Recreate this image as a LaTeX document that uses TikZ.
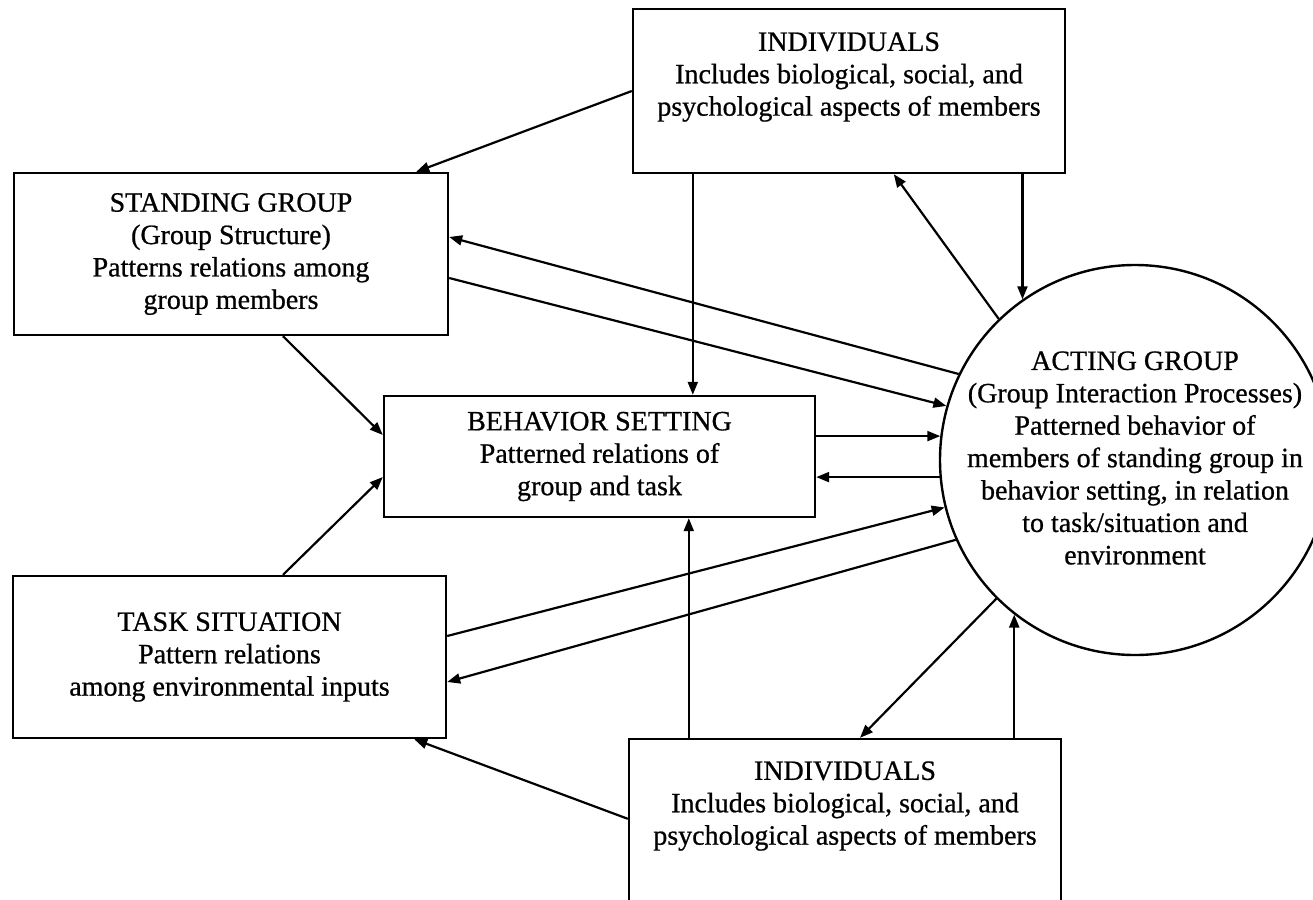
\documentclass[tikz,border=0pt]{standalone}
\usepackage{fontspec}
\setmainfont{Liberation Serif}[FakeBold=0.7]
\usetikzlibrary{arrows.meta,calc}
\begin{document}
\begin{tikzpicture}[x=0.5pt,y=-0.5pt,
  box/.style={draw, line width=1.2pt, rectangle, inner sep=0pt},
  lbl/.style={align=center, font=\fontsize{14}{16.2}\selectfont, inner sep=0pt},
  link/.style={line width=1.1pt, -{Triangle[length=6.5pt,width=5pt]}},
  ]
\useasboundingbox (0,0) rectangle (1313,900);
\fill[white] (0,0) rectangle (1313,900);
\clip (0,0) rectangle (1313,900);

% boxes
\node[box, minimum width=216pt, minimum height=82pt] (ind1) at (849,91) {};
\node[lbl] (ind1t) at (849,77) {INDIVIDUALS\\Includes biological, social, and\\psychological aspects of members};

\node[box, lbl, minimum width=217pt, minimum height=81pt] (sg) at (231,254)
  {STANDING GROUP\\(Group Structure)\\Patterns relations among\\group members};

\node[box, lbl, minimum width=215.5pt, minimum height=60.5pt] (bs) at (599.5,456.5)
  {BEHAVIOR SETTING\\Patterned relations of\\group and task};

\node[box, lbl, minimum width=216.5pt, minimum height=81pt] (ts) at (229.5,657)
  {TASK SITUATION\\Pattern relations\\among environmental inputs};

\node[box, minimum width=216pt, minimum height=110.5pt] (ind2) at (845,849.5) {};
\node[lbl] (ind2t) at (845,806) {INDIVIDUALS\\Includes biological, social, and\\psychological aspects of members};

% acting group circle
\node[draw, line width=1.2pt, circle, minimum size=195pt, inner sep=0pt] (ag) at (1135,460) {};
\node[lbl] (agt) at (1135,458) {ACTING GROUP\\(Group Interaction Processes)\\Patterned behavior of\\members of standing group in\\behavior setting, in relation\\to task/situation and\\environment};

% helper points on box edges
\coordinate (p1) at ($(ind1.south west)+(61,0)$);
\coordinate (p3) at ($(ind2.north west)+(61,0)$);

% connectors
\draw[link] (ind1.west) -- ($(sg.north east)+(-33,0)$);
\draw[link] (p1) -- (p1 |- bs.north);
\draw[link] (ag.125 |- ind1.south) -- (ag.125);
\draw[link] (ag.134) -- ($(ind1.south west)+(262,0)$);
\draw[link] (ag.154) -- ($(sg.east)+(0,-17)$);
\draw[link] ($(sg.east)+(0,24)$) -- (ag.164);
\draw[link] (ag.173 -| bs.east) -- (ag.173);
\draw[link] (ag.185) -- (ag.185 -| bs.east);
\draw[link] ($(ts.east)+(0,-21)$) -- (ag.194);
\draw[link] (ag.204) -- ($(ts.east)+(0,25)$);
\draw[link] ($(sg.south)+(52,0)$) -- ($(bs.west)+(0,-21.5)$);
\draw[link] ($(ts.north)+(53.5,0)$) -- ($(bs.west)+(0,20.5)$);
\draw[link] (p3) -- (p3 |- bs.south);
\draw[link] (ag.232 |- ind2.north) -- (ag.232);
\draw[link] (ag.225) -- ($(ind2.north)+(15,0)$);
\draw[link] ($(ind2.north west)+(0,81)$) -- ($(ts.south east)+(-33,0)$);
\end{tikzpicture}
\end{document}
